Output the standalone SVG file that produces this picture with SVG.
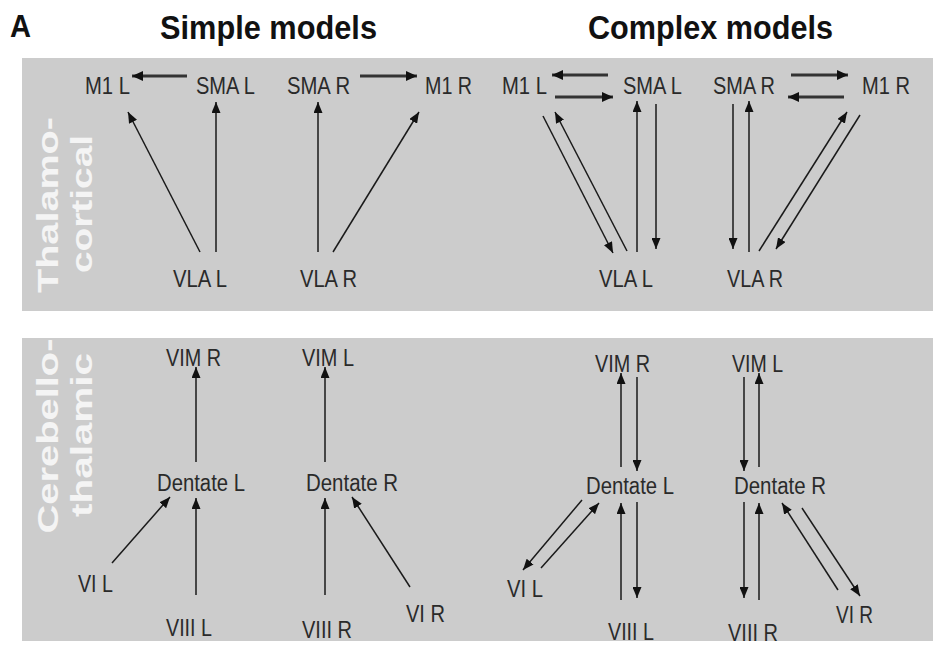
<svg xmlns="http://www.w3.org/2000/svg" width="933" height="646" viewBox="0 0 933 646">
<defs>
<style>
.panel{fill:#cccccc}
.title{font-family:"Liberation Sans",Arial,sans-serif;font-weight:bold;fill:#111}
.side{font-family:"Liberation Sans",Arial,sans-serif;font-weight:bold;font-size:30px;fill:#f4f4f4;text-anchor:middle}
.lbl{font-family:"Liberation Sans",Arial,sans-serif;font-size:24px;fill:#2a2a2a}
.lbl2{font-family:"Liberation Sans",Arial,sans-serif;font-size:23px;fill:#2a2a2a}
.a{stroke:#1a1a1a;stroke-width:1.5;fill:none;marker-end:url(#ah)}
.t{stroke:#333;stroke-width:3;fill:none;marker-end:url(#ahb)}
</style>
<marker id="ah" markerUnits="userSpaceOnUse" markerWidth="11" markerHeight="9" refX="11" refY="4.5" orient="auto"><path d="M0,0 L11,4.5 L0,9 z" fill="#111"/></marker>
<marker id="ahb" markerUnits="userSpaceOnUse" markerWidth="11" markerHeight="10" refX="11" refY="5" orient="auto"><path d="M0,0 L11,5 L0,10 z" fill="#111"/></marker>
</defs>
<rect width="933" height="646" fill="#ffffff"/>
<rect class="panel" x="22" y="58" width="911" height="253"/>
<rect class="panel" x="22" y="338" width="911" height="303"/>
<g id="titles">
<text class="title" x="10" y="37" font-size="32" textLength="21" lengthAdjust="spacingAndGlyphs">A</text>
<text class="title" x="160" y="39" font-size="33" textLength="217" lengthAdjust="spacingAndGlyphs">Simple models</text>
<text class="title" x="588" y="39" font-size="33" textLength="245" lengthAdjust="spacingAndGlyphs">Complex models</text>
</g>
<g id="side-labels">
<text class="side" transform="translate(58,205) rotate(-90)" textLength="176" lengthAdjust="spacingAndGlyphs">Thalamo-</text>
<text class="side" transform="translate(92,204) rotate(-90)" textLength="138" lengthAdjust="spacingAndGlyphs">cortical</text>
<text class="side" transform="translate(58,436) rotate(-90)" textLength="195" lengthAdjust="spacingAndGlyphs">Cerebello-</text>
<text class="side" transform="translate(92,435) rotate(-90)" textLength="164" lengthAdjust="spacingAndGlyphs">thalamic</text>
</g>
<g id="connectors">
<line class="t" x1="187" y1="76" x2="132" y2="76"/>
<line class="t" x1="360" y1="76" x2="417" y2="76"/>
<line class="a" x1="200" y1="252" x2="128" y2="112"/>
<line class="a" x1="216" y1="252" x2="216" y2="102"/>
<line class="a" x1="318" y1="252" x2="318" y2="102"/>
<line class="a" x1="333" y1="252" x2="419" y2="112"/>
<line class="t" x1="608" y1="75" x2="552" y2="75"/>
<line class="t" x1="555" y1="97" x2="613" y2="97"/>
<line class="t" x1="791" y1="75" x2="848" y2="75"/>
<line class="t" x1="844" y1="97" x2="788" y2="97"/>
<line class="a" x1="543" y1="116" x2="613" y2="253"/>
<line class="a" x1="627" y1="251" x2="555" y2="112"/>
<line class="a" x1="637" y1="252" x2="637" y2="101"/>
<line class="a" x1="656" y1="104" x2="656" y2="249"/>
<line class="a" x1="733" y1="104" x2="733" y2="249"/>
<line class="a" x1="749" y1="252" x2="749" y2="101"/>
<line class="a" x1="759" y1="251" x2="847" y2="112"/>
<line class="a" x1="860" y1="115" x2="776" y2="249"/>
<line class="a" x1="196" y1="462" x2="196" y2="367"/>
<line class="a" x1="325" y1="462" x2="325" y2="367"/>
<line class="a" x1="112" y1="563" x2="170" y2="497"/>
<line class="a" x1="196" y1="595" x2="196" y2="498"/>
<line class="a" x1="325" y1="595" x2="325" y2="498"/>
<line class="a" x1="410" y1="587" x2="352" y2="497"/>
<line class="a" x1="621" y1="467" x2="621" y2="373"/>
<line class="a" x1="637" y1="377" x2="637" y2="471"/>
<line class="a" x1="744" y1="377" x2="744" y2="471"/>
<line class="a" x1="759" y1="467" x2="759" y2="373"/>
<line class="a" x1="582" y1="500" x2="523" y2="570"/>
<line class="a" x1="541" y1="568" x2="599" y2="503"/>
<line class="a" x1="621" y1="600" x2="621" y2="503"/>
<line class="a" x1="637" y1="502" x2="637" y2="598"/>
<line class="a" x1="744" y1="502" x2="744" y2="598"/>
<line class="a" x1="759" y1="600" x2="759" y2="503"/>
<line class="a" x1="838" y1="590" x2="782" y2="503"/>
<line class="a" x1="802" y1="508" x2="860" y2="596"/>
</g>
<g id="s-m1l"><text class="lbl" x="85" y="94" textLength="45" lengthAdjust="spacingAndGlyphs">M1 L</text></g>
<g id="s-smal"><text class="lbl" x="196" y="94" textLength="59" lengthAdjust="spacingAndGlyphs">SMA L</text></g>
<g id="s-smar"><text class="lbl" x="287" y="94" textLength="63" lengthAdjust="spacingAndGlyphs">SMA R</text></g>
<g id="s-m1r"><text class="lbl" x="425" y="94" textLength="47" lengthAdjust="spacingAndGlyphs">M1 R</text></g>
<g id="s-vlal"><text class="lbl" x="173" y="287" textLength="54" lengthAdjust="spacingAndGlyphs">VLA L</text></g>
<g id="s-vlar"><text class="lbl" x="300" y="287" textLength="57" lengthAdjust="spacingAndGlyphs">VLA R</text></g>
<g id="c-m1l"><text class="lbl" x="502" y="94" textLength="45" lengthAdjust="spacingAndGlyphs">M1 L</text></g>
<g id="c-smal"><text class="lbl" x="623" y="94" textLength="59" lengthAdjust="spacingAndGlyphs">SMA L</text></g>
<g id="c-smar"><text class="lbl" x="713" y="94" textLength="62" lengthAdjust="spacingAndGlyphs">SMA R</text></g>
<g id="c-m1r"><text class="lbl" x="862" y="94" textLength="48" lengthAdjust="spacingAndGlyphs">M1 R</text></g>
<g id="c-vlal"><text class="lbl" x="599" y="287" textLength="54" lengthAdjust="spacingAndGlyphs">VLA L</text></g>
<g id="c-vlar"><text class="lbl" x="727" y="287" textLength="56" lengthAdjust="spacingAndGlyphs">VLA R</text></g>
<g id="s-vimr"><text class="lbl2" x="166" y="366" textLength="55" lengthAdjust="spacingAndGlyphs">VIM R</text></g>
<g id="s-viml"><text class="lbl2" x="302" y="366" textLength="52" lengthAdjust="spacingAndGlyphs">VIM L</text></g>
<g id="s-dentl"><text class="lbl2" x="157" y="491" textLength="88" lengthAdjust="spacingAndGlyphs">Dentate L</text></g>
<g id="s-dentr"><text class="lbl2" x="306" y="491" textLength="92" lengthAdjust="spacingAndGlyphs">Dentate R</text></g>
<g id="s-vil"><text class="lbl2" x="78" y="592" textLength="35" lengthAdjust="spacingAndGlyphs">VI L</text></g>
<g id="s-viiil"><text class="lbl2" x="166" y="636" textLength="46" lengthAdjust="spacingAndGlyphs">VIII L</text></g>
<g id="s-viiir"><text class="lbl2" x="302" y="638" textLength="50" lengthAdjust="spacingAndGlyphs">VIII R</text></g>
<g id="s-vir"><text class="lbl2" x="406" y="622" textLength="39" lengthAdjust="spacingAndGlyphs">VI R</text></g>
<g id="c-vimr"><text class="lbl2" x="595" y="372" textLength="55" lengthAdjust="spacingAndGlyphs">VIM R</text></g>
<g id="c-viml"><text class="lbl2" x="732" y="372" textLength="51" lengthAdjust="spacingAndGlyphs">VIM L</text></g>
<g id="c-dentl"><text class="lbl2" x="586" y="494" textLength="88" lengthAdjust="spacingAndGlyphs">Dentate L</text></g>
<g id="c-dentr"><text class="lbl2" x="734" y="494" textLength="92" lengthAdjust="spacingAndGlyphs">Dentate R</text></g>
<g id="c-vil"><text class="lbl2" x="507" y="597" textLength="36" lengthAdjust="spacingAndGlyphs">VI L</text></g>
<g id="c-viiil"><text class="lbl2" x="608" y="640" textLength="46" lengthAdjust="spacingAndGlyphs">VIII L</text></g>
<g id="c-viiir"><text class="lbl2" x="728" y="641" textLength="50" lengthAdjust="spacingAndGlyphs">VIII R</text></g>
<g id="c-vir"><text class="lbl2" x="836" y="623" textLength="37" lengthAdjust="spacingAndGlyphs">VI R</text></g>
</svg>
